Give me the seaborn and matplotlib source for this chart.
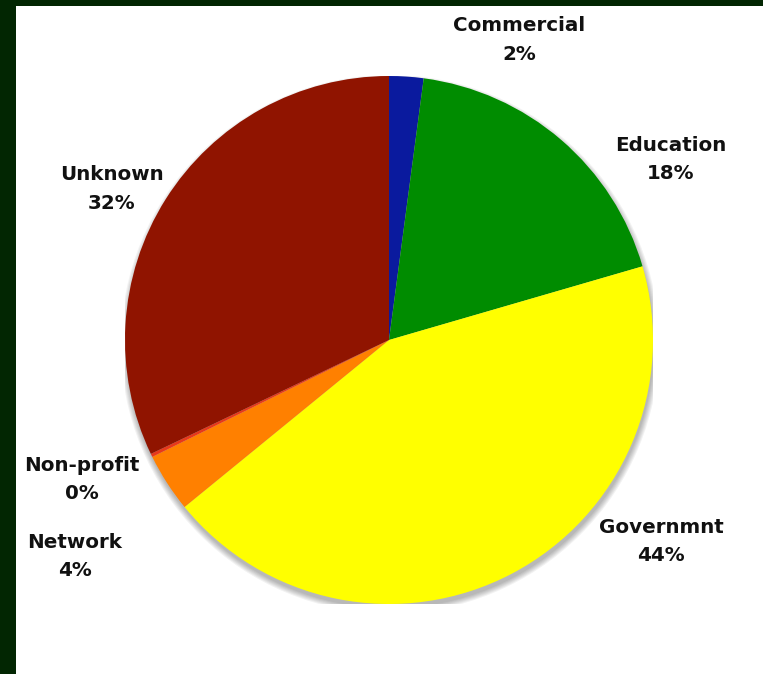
import matplotlib
matplotlib.use("Agg")
from matplotlib import pyplot as plt
import seaborn as sns

categories = ['Commercial', 'Education', 'Governmnt', 'Network', 'Non-profit', 'Unknown']
shares = [2.1, 18.4, 43.6, 3.6, 0.2, 32.1]
colors = ['#0a1a9e', '#008c00', '#ffff00', '#ff8000', '#e8381a', '#901400']

# where each label block sits (pie radius = 1)
label_pos = {'Commercial': (0.492, 1.136),
             'Education': (1.068, 0.684),
             'Governmnt': (1.030, -0.763),
             'Network': (-1.191, -0.820),
             'Non-profit': (-1.163, -0.528),
             'Unknown': (-1.051, 0.572)}

sns.set_theme(style='white')
plt.rcParams['font.family'] = ['DejaVu Sans']

fig = plt.figure(figsize=(7.63, 6.74), dpi=100)
fig.patch.set_facecolor('#022602')
fig.add_artist(matplotlib.patches.Rectangle((16 / 763, 0), 1, 668 / 674,
                                            transform=fig.transFigure,
                                            facecolor='white', edgecolor='none', zorder=0))

ax = fig.add_axes([125 / 763, 70 / 674, 528 / 763, 528 / 674])
ax.set_facecolor('none')

# soft shadow below the pie
for k in range(6):
    ax.add_patch(matplotlib.patches.Circle((0.004, -0.016), 1.0 + 0.004 * k,
                                           facecolor='black', alpha=0.05,
                                           edgecolor='none', zorder=0))

ax.pie(shares, colors=colors, startangle=90, counterclock=False,
       wedgeprops={'linewidth': 0, 'zorder': 2})

for name, v in zip(categories, shares):
    x, y = label_pos[name]
    ax.text(x, y, '{}\n{:.0f}%'.format(name, v), ha='center', va='center',
            fontsize=14.3, fontweight='bold', color='#111111', linespacing=1.62,
            clip_on=False)

ax.set_xlim(-1, 1)
ax.set_ylim(-1, 1)
ax.set_axis_off()

plt.savefig('out.png', dpi=100, facecolor=fig.get_facecolor())
